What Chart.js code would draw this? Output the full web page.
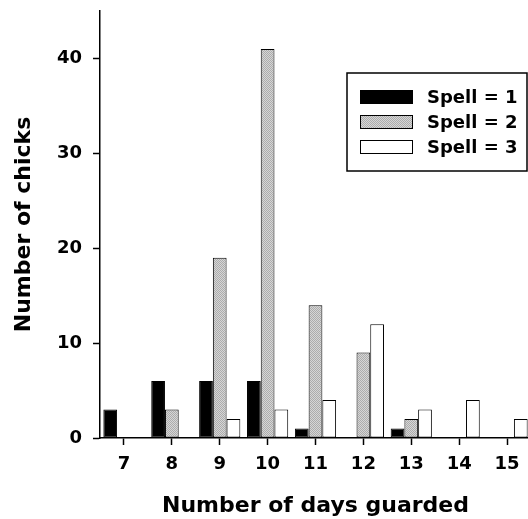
<!DOCTYPE html>
<html>
<head>
<meta charset="utf-8">
<script src="https://cdn.jsdelivr.net/npm/chart.js@4/dist/chart.umd.min.js"></script>
<style>
  html, body { margin: 0; padding: 0; background: #fff; overflow: hidden; }
  canvas { display: block; }
</style>
</head>
<body>
<canvas id="chicksChart" width="531" height="519"></canvas>
<script>
// data
const days = ['7', '8', '9', '10', '11', '12', '13', '14', '15'];
const spell1 = [3, 6, 6, 6, 1, 0, 1, 0, 0];
const spell2 = [0, 3, 19, 41, 14, 9, 2, 0, 0];
const spell3 = [0, 0, 2, 3, 4, 12, 3, 4, 2];
const yTicks = [0, 10, 20, 30, 40];

const FONT = "'DejaVu Sans', Arial, sans-serif";

// dithered grey fill like the printed figure
function makeGrey() {
  const c = document.createElement('canvas');
  c.width = 2; c.height = 2;
  const g = c.getContext('2d');
  g.fillStyle = '#d6d6d6'; g.fillRect(0, 0, 2, 2);
  g.fillStyle = '#acacac'; g.fillRect(0, 0, 1, 1); g.fillRect(1, 1, 1, 1);
  return g.createPattern(c, 'repeat');
}
const grey = makeGrey();

// boxed legend drawn inside the plot
const boxLegend = {
  id: 'boxLegend',
  afterDraw(chart) {
    const ctx = chart.ctx;
    ctx.save();
    ctx.lineWidth = 1.5;
    ctx.strokeStyle = '#000';
    ctx.strokeRect(347, 73, 180, 98);
    ctx.font = 'bold 18px ' + FONT;
    ctx.textBaseline = 'middle';
    chart.data.datasets.forEach(function(ds, i) {
      const y = 97 + i * 25;
      ctx.fillStyle = ds.backgroundColor;
      ctx.fillRect(360, y - 7, 53, 14);
      ctx.lineWidth = 1;
      ctx.strokeRect(360.5, y - 6.5, 52, 13);
      ctx.fillStyle = '#000';
      ctx.fillText(ds.label, 427, y + 1);
    });
    ctx.restore();
  }
};

const chicksChart = new Chart(document.getElementById('chicksChart'), {
  type: 'bar',
  data: {
    labels: days,
    datasets: [
      { label: 'Spell = 1', data: spell1, backgroundColor: '#000' },
      { label: 'Spell = 2', data: spell2, backgroundColor: grey },
      { label: 'Spell = 3', data: spell3, backgroundColor: '#fff' }
    ]
  },
  options: {
    responsive: false,
    animation: false,
    layout: { padding: { top: 11, right: 0, left: 0, bottom: 0 } },
    datasets: {
      bar: {
        borderColor: '#000',
        borderWidth: 1,
        borderSkipped: false,
        categoryPercentage: 0.86,
        barPercentage: 1
      }
    },
    plugins: {
      legend: { display: false },
      tooltip: { enabled: false }
    },
    scales: {
      x: {
        offset: true,
        grid: { display: true, drawOnChartArea: false, offset: false, tickLength: 7, color: '#000', tickWidth: 1.5 },
        border: { display: true, color: '#000', width: 1.5 },
        ticks: { color: '#000', padding: 9, font: { family: FONT, size: 18, weight: 'bold' } },
        title: {
          display: true,
          text: 'Number of days guarded',
          color: '#000',
          padding: { top: 0, bottom: 0 },
          font: { family: FONT, size: 22, weight: 'bold' }
        },
        afterFit(scale) { scale.height = 81; }
      },
      y: {
        min: 0,
        max: 45,
        grid: { display: true, drawOnChartArea: false, tickLength: 7, color: '#000', tickWidth: 1.5 },
        border: { display: true, color: '#000', width: 1.5 },
        ticks: { color: '#000', padding: 11, font: { family: FONT, size: 18, weight: 'bold' } },
        afterBuildTicks(scale) { scale.ticks = yTicks.map(v => ({ value: v })); },
        title: {
          display: true,
          text: 'Number of chicks',
          color: '#000',
          padding: { top: 11, bottom: 0 },
          font: { family: FONT, size: 22, weight: 'bold' }
        },
        afterFit(scale) {
          scale.width = 100;
          scale.paddingTop = 0;
          scale.paddingBottom = 0;
        }
      }
    }
  },
  plugins: [boxLegend]
});
</script>
</body>
</html>
